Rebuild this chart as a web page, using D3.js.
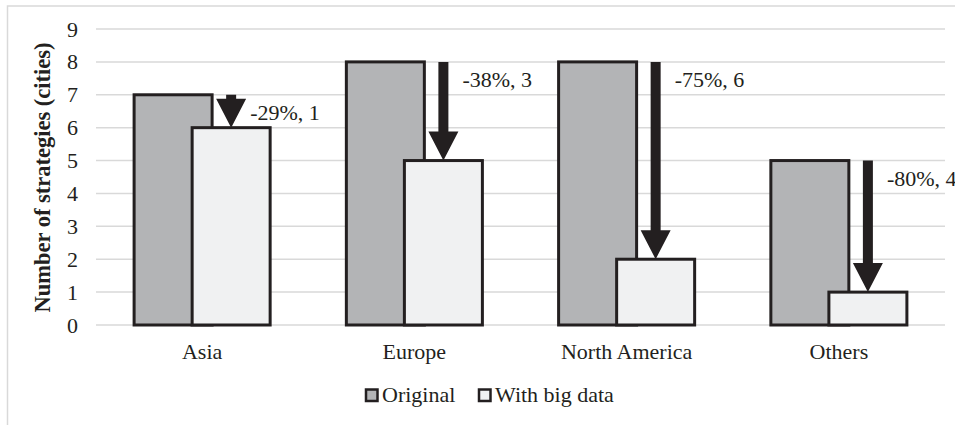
<!DOCTYPE html>
<html>
<head>
<meta charset="utf-8">
<script src="https://cdn.jsdelivr.net/npm/d3@7"></script>
<style>
  html, body { margin: 0; padding: 0; background: #fff; }
  svg { display: block; }
  text { font-family: "Liberation Serif", "Times New Roman", serif; fill: #231f20; }
</style>
</head>
<body>
<svg id="chart" width="955" height="425"></svg>
<script>
// Strategies per region, before and after using big data
const regions = ["Asia", "Europe", "North America", "Others"];
const original = [7, 8, 8, 5];
const withBigData = [6, 5, 2, 1];
const changeLabels = ["-29%", "-38%", "-75%", "-80%"];
const yTicks = [0, 1, 2, 3, 4, 5, 6, 7, 8, 9];
const seriesNames = ["Original", "With big data"];

const colors = { original: "#b3b4b6", big: "#f0f1f2", ink: "#231f20", grid: "#d9d9d9" };

const svg = d3.select("#chart");
const W = 955, H = 425;

// outer chart frame (clipped at right/bottom)
svg.append("rect")
  .attr("x", 7.5).attr("y", 6)
  .attr("width", W + 10).attr("height", H + 10)
  .attr("fill", "#fff")
  .attr("stroke", colors.grid).attr("stroke-width", 1.5);

const plot = { left: 96, right: 945, top: 29, bottom: 325 };

const x = d3.scaleBand().domain(regions).range([plot.left, plot.right]).paddingInner(0).paddingOuter(0);
const y = d3.scaleLinear().domain([0, 9]).range([plot.bottom, plot.top]);

// each bar covers ~37% of the category; the second bar overlaps the first
const barW = x.bandwidth() * 0.3675;
const offOrig = -barW * 0.872;
const offBig = -barW * 0.128;
const cx = r => x(r) + x.bandwidth() / 2;

// gridlines
svg.append("g")
  .selectAll("line")
  .data(yTicks)
  .join("line")
  .attr("x1", plot.left).attr("x2", plot.right)
  .attr("y1", d => y(d)).attr("y2", d => y(d))
  .attr("stroke", colors.grid).attr("stroke-width", 1.5);

// y axis labels
const yAxis = d3.axisLeft(y).tickValues(yTicks).tickSize(0).tickPadding(0);
const gy = svg.append("g").attr("transform", `translate(${plot.left - 18},0)`).call(yAxis);
gy.select(".domain").remove();
gy.selectAll("text")
  .attr("font-size", 22)
  .attr("font-family", "Liberation Serif, Times New Roman, serif")
  .attr("fill", colors.ink);

// y axis title
svg.append("text")
  .attr("transform", `translate(50,${(plot.top + plot.bottom) / 2 + 0.5}) rotate(-90)`)
  .attr("text-anchor", "middle")
  .attr("font-size", 22.5)
  .attr("font-weight", "bold")
  .text("Number of strategies (cities)");

// bars
const bars = svg.append("g");
bars.selectAll("rect.orig")
  .data(regions)
  .join("rect")
  .attr("class", "orig")
  .attr("x", (r) => cx(r) + offOrig)
  .attr("y", (r, i) => y(original[i]))
  .attr("width", barW)
  .attr("height", (r, i) => y(0) - y(original[i]))
  .attr("fill", colors.original)
  .attr("stroke", colors.ink).attr("stroke-width", 3);

bars.selectAll("rect.big")
  .data(regions)
  .join("rect")
  .attr("class", "big")
  .attr("x", (r) => cx(r) + offBig)
  .attr("y", (r, i) => y(withBigData[i]))
  .attr("width", barW)
  .attr("height", (r, i) => y(0) - y(withBigData[i]))
  .attr("fill", colors.big)
  .attr("stroke", colors.ink).attr("stroke-width", 3);

// arrows from the original height down to the big-data height
const headW = 30, headH = 29, shaftW = 10;
const arrows = svg.append("g");
regions.forEach((r, i) => {
  const ax = cx(r) + offBig + barW / 2;
  const y0 = y(original[i]);
  const y1 = y(withBigData[i]);
  const yh = y1 - headH;
  const pts = [
    [ax - shaftW / 2, y0], [ax + shaftW / 2, y0], [ax + shaftW / 2, yh],
    [ax + headW / 2, yh], [ax, y1], [ax - headW / 2, yh], [ax - shaftW / 2, yh]
  ];
  arrows.append("path")
    .attr("d", d3.line()(pts) + "Z")
    .attr("fill", colors.ink);
  arrows.append("text")
    .attr("x", ax + 19)
    .attr("y", y0 + 25)
    .attr("font-size", 22)
    .text(`${changeLabels[i]}, ${original[i] - withBigData[i]}`);
});

// category labels
const xAxis = d3.axisBottom(x).tickSize(0).tickPadding(0);
const gx = svg.append("g").attr("transform", `translate(0,${plot.bottom + 34})`).call(xAxis);
gx.select(".domain").remove();
gx.selectAll("text")
  .attr("dy", 0)
  .attr("font-size", 22)
  .attr("font-family", "Liberation Serif, Times New Roman, serif")
  .attr("fill", colors.ink);

// legend
const legend = svg.append("g");
const legendItems = [
  { name: seriesNames[0], fill: colors.original, x: 366 },
  { name: seriesNames[1], fill: colors.big, x: 479 }
];
legendItems.forEach(d => {
  legend.append("rect")
    .attr("x", d.x).attr("y", 389.5)
    .attr("width", 11.5).attr("height", 11.5)
    .attr("fill", d.fill)
    .attr("stroke", colors.ink).attr("stroke-width", 2.5);
  legend.append("text")
    .attr("x", d.x + 16).attr("y", 402)
    .attr("font-size", 22)
    .text(d.name);
});
</script>
</body>
</html>
